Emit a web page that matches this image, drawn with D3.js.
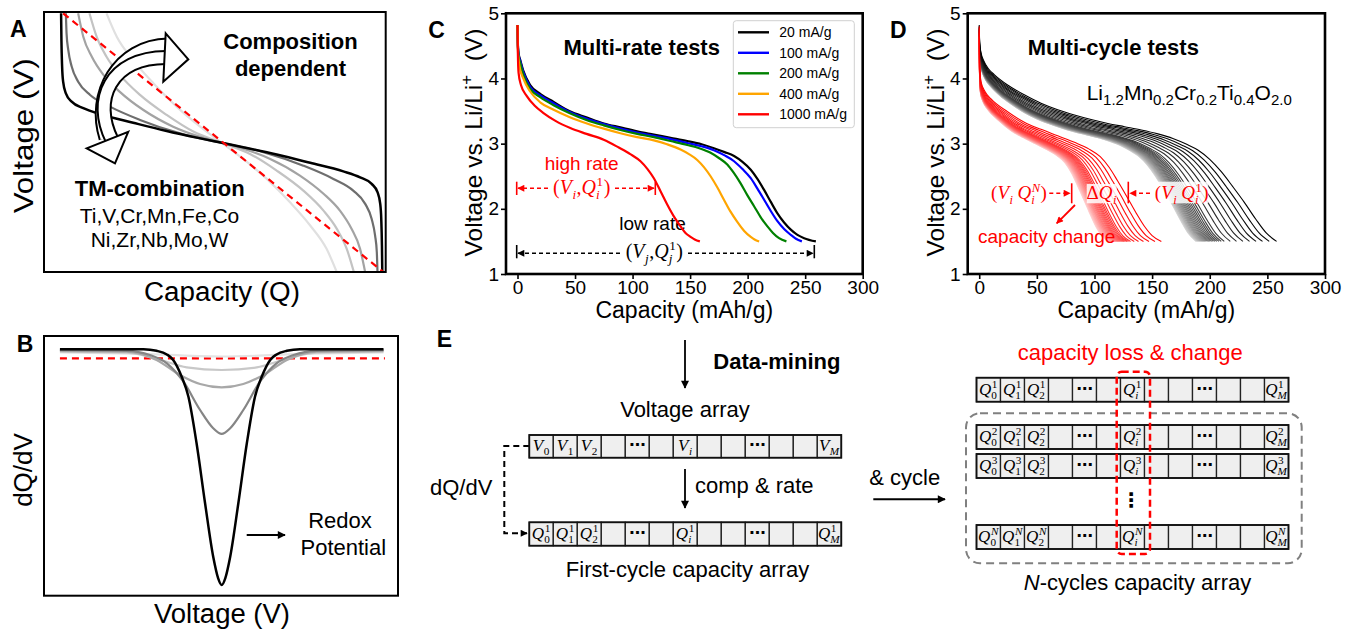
<!DOCTYPE html>
<html><head><meta charset="utf-8">
<script src="https://cdn.jsdelivr.net/npm/d3@7/dist/d3.min.js"></script>
<style>html,body{margin:0;padding:0;background:#fff;}svg{display:block;}</style>
</head><body>
<svg id="fig" width="1353" height="629" xmlns="http://www.w3.org/2000/svg"></svg>
<script>
// ================= DATA =================
// Panel A: schematic voltage profiles (capacity %, voltage %), first half; curves are point-symmetric
const aBlack = [[5.0,99.5],[5.1,89.2],[5.3,79.0],[5.6,73.2],[6.4,68.7],[8.1,65.5],[11.5,63.0],[16.4,60.7],[26.1,57.4],[35.9,54.2],[45.7,51.4],[52.0,49.7]];
const aGray1 = [[6.4,99.5],[6.6,91.8],[7.1,85.4],[8.1,79.0],[10.0,73.2],[13.5,68.1],[19.3,63.6],[28.1,58.5],[39.8,53.3],[52.0,49.7]];
const aGray2 = [[10.0,99.5],[11.5,90.5],[14.0,82.8],[17.4,75.8],[22.2,69.3],[29.1,62.3],[37.8,55.9],[45.7,52.0],[52.0,49.7]];
const aGray3 = [[13.3,99.5],[15.4,90.5],[18.3,82.8],[22.2,75.8],[28.1,68.1],[35.9,60.4],[43.7,54.0],[52.0,49.7]];
const aGray4 = [[18.3,99.5],[21.3,90.5],[26.1,81.5],[32.0,72.6],[38.8,63.6],[45.7,55.9],[52.0,49.7]];
const aRef   = [[5.6,99.5],[99.3,0]];
// Panel B: schematic dQ/dV (voltage %, dQ/dV %), left half; curves are mirror-symmetric
const bBlack = [[4.5,94.9],[28.1,94.9],[31.8,94.3],[34.7,92.9],[36.5,90.8],[38.9,84.3],[40.8,76.6],[43.1,58.7],[45.5,35.6],[47.8,15.0],[49.2,6.7],[50.2,4.1]];
const bGray1 = [[4.5,94.6],[23.4,94.3],[29.9,92.7],[34.7,89.5],[39.4,82.4],[44.1,71.5],[47.8,64.5],[50.2,62.3]];
const bGray2 = [[4.5,94.3],[23.4,94.0],[31.8,90.8],[38.4,85.0],[44.1,81.5],[50.2,80.2]];
const bGray3 = [[4.5,94.0],[23.4,93.6],[32.8,90.8],[40.3,87.9],[50.2,86.9]];
const bGray4 = [[4.5,93.7],[25.0,93.2],[50.2,92.1]];
const bRef   = [[4.5,91.4],[96.3,91.4]];
// Panel C: multi-rate discharge curves (mAh/g, V)
const rateLabels = ["20 mA/g","100 mA/g","200 mA/g","400 mA/g","1000 mA/g"];
const c20 = [[0,4.82],[0.4,4.5],[1,4.38],[2.3,4.29],[5,4.12],[11,3.9],[20,3.76],[31.4,3.64],[45,3.5],[60.4,3.4],[75,3.31],[89.4,3.25],[104,3.19],[118.5,3.14],[133,3.09],[147.5,3.04],[160,2.99],[170.7,2.93],[180,2.87],[188.2,2.81],[195.5,2.72],[202.7,2.6],[208.5,2.46],[214.3,2.29],[220,2.11],[225.9,1.93],[231.7,1.79],[237.5,1.68],[243.3,1.6],[249.1,1.55],[259.3,1.5]];
const c100 = [[0,4.82],[0.4,4.48],[1,4.36],[2.3,4.27],[5,4.1],[11,3.87],[20,3.74],[31.4,3.62],[45,3.49],[60.4,3.38],[75,3.3],[89.4,3.23],[104,3.17],[118.5,3.12],[133,3.07],[147.5,3.01],[160,2.96],[170.7,2.9],[180,2.82],[188.2,2.73],[195.5,2.61],[202.7,2.47],[208.5,2.31],[214.3,2.14],[220,1.97],[225.9,1.81],[231.7,1.69],[237.5,1.6],[242,1.54],[247.1,1.5]];
const c200 = [[0,4.82],[0.4,4.46],[1,4.33],[2.3,4.24],[5,4.06],[11,3.84],[20,3.71],[31.4,3.59],[45,3.47],[60.4,3.36],[75,3.28],[89.4,3.21],[104,3.15],[118.5,3.1],[133,3.04],[147.5,2.98],[158,2.93],[167.8,2.86],[175,2.78],[182.3,2.68],[188,2.55],[193.9,2.39],[199.7,2.21],[205.6,2.04],[211.4,1.87],[217.2,1.73],[222,1.63],[227.3,1.55],[233.7,1.5]];
const c400 = [[0,4.82],[0.4,4.42],[1,4.28],[1.7,4.19],[5,4.0],[11,3.8],[20,3.63],[31.4,3.52],[45,3.41],[60.4,3.31],[75,3.23],[89.4,3.16],[104,3.1],[118.5,3.05],[130,2.99],[141.7,2.91],[149,2.84],[156.2,2.75],[162,2.64],[167.8,2.5],[173.6,2.33],[179.4,2.14],[185,1.96],[191,1.8],[197,1.66],[202.7,1.57],[206,1.53],[210,1.5]];
const c1000 = [[0,4.82],[0.3,4.4],[0.9,4.09],[3,3.9],[8.1,3.73],[15,3.58],[22.6,3.47],[33,3.35],[45.9,3.24],[60,3.15],[74.9,3.06],[88,2.94],[98,2.84],[106.9,2.73],[113,2.61],[118.5,2.47],[124.3,2.27],[130,2.07],[136,1.88],[141.7,1.73],[146,1.63],[150.4,1.57],[154,1.53],[158.5,1.5]];
// Panel D: first-cycle curves of the two groups and end capacity of every cycle
const dBlack1 = [[0,4.82],[0.4,4.55],[1.5,4.4],[4,4.27],[8,4.15],[13,4.06],[24.6,3.9],[39.1,3.75],[53.6,3.62],[68.1,3.52],[82.6,3.44],[97.1,3.37],[111.6,3.31],[126.1,3.26],[140.6,3.21],[155,3.15],[168,3.08],[180,2.99],[190,2.9],[200,2.76],[210,2.57],[220,2.34],[230,2.1],[240,1.84],[249,1.63],[258,1.5]];
const dRed1 = [[0,4.8],[0.3,4.3],[0.8,4.08],[1.6,3.95],[5,3.8],[10,3.69],[24.6,3.49],[39.1,3.33],[53.6,3.22],[68.1,3.12],[82.6,3.02],[95,2.92],[105,2.8],[113,2.63],[120,2.43],[128,2.19],[136,1.94],[143,1.74],[150,1.59],[158,1.5]];
const dBlackEnds = [258,251.6,245.8,240.2,234.5,228.8,223.2,217.8,212.6,210.0,208.0,206.2,204.6,203.1,201.7,200.4,199.2,198.1,197.0,196.0,195.1,194.2,193.4,192.6,191.8,191.1,190.4,189.7,189.1,188.5,188.0];
const dRedEnds = [158,152.5,147.3,142.5,138.2,134.5,131.3,129.5,128.1,126.8,125.6,124.5,123.5,122.5,121.6,120.7,119.9,119.1,118.3,117.6,116.9,116.2,115.5,114.9,114.3,113.7,113.1,112.5,112.0];
// Axis ticks
const xTicks = [0,50,100,150,200,250,300];
const yTicks = [1,2,3,4,5];
// Panel E: array cells
const cellIdx = ["0","1","2","","dots","","i","","","dots","","","M"];
const cycleRows = ["1","2","3","N"];

// ================= DRAWING =================
const SANS = "'Liberation Sans', Arial, Helvetica, sans-serif";
const SERIF = "'Liberation Serif', 'Times New Roman', serif";
const svg = d3.select("#fig");
const defs = svg.append("defs");
function mk(id, color, w, h) {
  defs.append("marker").attr("id", id).attr("viewBox","0 0 10 10").attr("refX",9).attr("refY",5)
    .attr("markerWidth",w).attr("markerHeight",h).attr("markerUnits","userSpaceOnUse").attr("orient","auto-start-reverse")
    .append("path").attr("d","M0,0 L10,5 L0,10 Z").attr("fill",color);
}
mk("ak","#000",10,8); mk("ar","#f00",8,7); mk("aks","#000",8,7);

function txt(x,y,s,o={}) {
  const t = svg.append("text").attr("x",x).attr("y",y).text(s)
    .style("font-family", o.family||SANS).style("font-size",(o.size||20)+"px")
    .attr("fill", o.color||"#000").attr("text-anchor", o.anchor||"start");
  if (o.bold) t.style("font-weight","bold");
  if (o.italic) t.style("font-style","italic");
  if (o.rotate) t.attr("transform",`rotate(${o.rotate},${x},${y})`);
  if (o.len) t.attr("textLength",o.len).attr("lengthAdjust","spacingAndGlyphs");
  return t;
}
function line(x1,y1,x2,y2,o={}) {
  const l = svg.append("line").attr("x1",x1).attr("y1",y1).attr("x2",x2).attr("y2",y2)
    .attr("stroke",o.color||"#000").attr("stroke-width",o.w||1.5);
  if (o.dash) l.attr("stroke-dasharray",o.dash);
  if (o.end) l.attr("marker-end",`url(#${o.end})`);
  return l;
}
function mathText(parent, x, y, tokens, o={}) {
  const fs = o.size||18, col = o.color||"#000", ss = fs*0.66;
  const g = parent.append("g");
  let cx = 0;
  const put = (s, px, py, size, it) => g.append("text").attr("x",px).attr("y",py).text(s)
    .style("font-family",SERIF).style("font-size",size+"px").style("font-style",it?"italic":"normal").attr("fill",col);
  for (const tk of tokens) {
    if (tk.sp) { cx += tk.sp; continue; }
    const t = put(tk.t, cx, 0, fs, !!tk.it);
    cx += t.node().getComputedTextLength();
    let w = 0;
    if (tk.sup) { const s = put(tk.sup, cx+0.5, -fs*0.38, ss, /[A-Za-z]/.test(tk.sup)); w = Math.max(w, s.node().getComputedTextLength()+1); }
    if (tk.sub) { const s = put(tk.sub, cx+(tk.sup?0:0.5), fs*0.26, ss, /[A-Za-z]/.test(tk.sub)); w = Math.max(w, s.node().getComputedTextLength()+1); }
    cx += w;
  }
  const dx = o.anchor==="start" ? 0 : o.anchor==="end" ? -cx : -cx/2;
  g.attr("transform",`translate(${x+dx},${y})`);
  return {g, width: cx, left: x+dx};
}

// ---------- Panel A ----------
const xA = d3.scaleLinear().domain([0,100]).range([44,385.7]);
const yA = d3.scaleLinear().domain([0,100]).range([272,12]);
const lnA = d3.line().x(d=>xA(d[0])).y(d=>yA(d[1])).curve(d3.curveMonotoneX);
const mirA = h => h.concat(h.slice(0,-1).reverse().map(([q,v])=>[104-q,99.4-v]));
[[aGray4,"#e0e0e0"],[aGray3,"#c3c3c3"],[aGray2,"#a3a3a3"],[aGray1,"#6e6e6e"],[aBlack,"#000"]].forEach(([d,c])=>
  svg.append("path").attr("d",lnA(mirA(d))).attr("fill","none").attr("stroke",c).attr("stroke-width",c==="#000"?2.5:2.2));
svg.append("path").attr("d",lnA(aRef)).attr("fill","none").attr("stroke","#f00").attr("stroke-width",2.2).attr("stroke-dasharray","7,5");
// curved hollow arrows
function hollowArc(d){
  svg.append("path").attr("d",d).attr("fill","none").attr("stroke","#000").attr("stroke-width",15);
  svg.append("path").attr("d",d).attr("fill","none").attr("stroke","#fff").attr("stroke-width",11);
}
hollowArc("M168,45 C118,46 92,95 106,138");
hollowArc("M112,140 C92,100 110,58 166,57.5");
svg.append("path").attr("d","M165.7,33.3 L188.3,59.3 L163.3,81.7 Z").attr("fill","#fff").attr("stroke","#000").attr("stroke-width",2).attr("stroke-linejoin","miter");
svg.append("path").attr("d","M128.3,131.7 L115,163.3 L86.7,148.3 Z").attr("fill","#fff").attr("stroke","#000").attr("stroke-width",2);
txt(290.5,49,"Composition",{size:22,bold:true,anchor:"middle"});
txt(290.5,76,"dependent",{size:22,bold:true,anchor:"middle"});
txt(159.7,196,"TM-combination",{size:22,bold:true,anchor:"middle"});
txt(159.5,223,"Ti,V,Cr,Mn,Fe,Co",{size:21,anchor:"middle"});
txt(159.5,247,"Ni,Zr,Nb,Mo,W",{size:21,anchor:"middle"});
svg.append("rect").attr("x",44).attr("y",12).attr("width",341.7).attr("height",260).attr("fill","none").attr("stroke","#000").attr("stroke-width",2);
txt(33,135.8,"Voltage (V)",{size:28,anchor:"middle",rotate:-90,len:155});
txt(222,301,"Capacity (Q)",{size:27,anchor:"middle",len:156});
txt(10,37.3,"A",{size:23,bold:true});

// ---------- Panel B ----------
const xB = d3.scaleLinear().domain([0,100]).range([44,398]);
const yB = d3.scaleLinear().domain([0,100]).range([595.7,336]);
const lnB = d3.line().x(d=>xB(d[0])).y(d=>yB(d[1])).curve(d3.curveMonotoneX);
const mirB = h => h.concat(h.slice(0,-1).reverse().map(([x,v])=>[100.4-x,v]));
svg.append("path").attr("d",lnB(bRef)).attr("fill","none").attr("stroke","#f00").attr("stroke-width",2.2).attr("stroke-dasharray","7,5");
[[bGray4,"#e3e3e3"],[bGray3,"#c8c8c8"],[bGray2,"#a8a8a8"],[bGray1,"#858585"],[bBlack,"#000"]].forEach(([d,c])=>
  svg.append("path").attr("d",lnB(mirB(d))).attr("fill","none").attr("stroke",c).attr("stroke-width",c==="#000"?2.5:2.2));
svg.append("rect").attr("x",44).attr("y",336).attr("width",354).attr("height",259.7).attr("fill","none").attr("stroke","#000").attr("stroke-width",2);
line(246.7,535,285,535,{w:2,end:"ak"});
txt(340,528.3,"Redox",{size:22,anchor:"middle"});
txt(343.3,555,"Potential",{size:22,anchor:"middle"});
txt(31.7,470,"dQ/dV",{size:26,anchor:"middle",rotate:-90});
txt(222,623,"Voltage (V)",{size:27,anchor:"middle",len:136});
txt(16.7,351.7,"B",{size:23,bold:true});

// ---------- Axes helper for C & D ----------
function axesBox(x0,x1,y0,y1) {
  const xs = d3.scaleLinear().domain([-10,300]).range([x0,x1]);
  const ys = d3.scaleLinear().domain([1,5]).range([y1,y0]);
  const gx = svg.append("g").attr("transform",`translate(0,${y1})`)
    .call(d3.axisBottom(xs).tickValues(xTicks).tickFormat(d3.format("d")).tickSize(5).tickPadding(2).tickSizeOuter(0));
  const gy = svg.append("g").attr("transform",`translate(${x0},0)`)
    .call(d3.axisLeft(ys).tickValues(yTicks).tickFormat(d3.format("d")).tickSize(5).tickPadding(2).tickSizeOuter(0));
  [gx,gy].forEach(g=>{
    g.attr("font-size",19).attr("font-family",SANS);
    g.select(".domain").remove();
    g.selectAll(".tick line").attr("stroke-width",1.6);
    g.selectAll(".tick text").attr("fill","#000");
  });
  return {xs, ys};
}
function frame(x0,x1,y0,y1){
  svg.append("rect").attr("x",x0).attr("y",y0).attr("width",x1-x0).attr("height",y1-y0).attr("fill","none").attr("stroke","#000").attr("stroke-width",2.6);
}
function voltLabel(x){
  const t = svg.append("text").attr("transform",`translate(${x},142.5) rotate(-90)`).attr("text-anchor","middle")
    .style("font-family",SANS).style("font-size","24.5px").attr("fill","#000");
  t.append("tspan").text("Voltage vs. Li/Li");
  t.append("tspan").attr("dy",-10).style("font-size","17px").text("+");
  t.append("tspan").attr("dy",10).text("\u00a0\u00a0(V)");
}

// ---------- Panel C ----------
const C = axesBox(506,862.7,13.3,274);
const lnC = d3.line().x(d=>C.xs(d[0])).y(d=>C.ys(d[1])).curve(d3.curveMonotoneX);
const rateSeries = [c20,c100,c200,c400,c1000];
const rateColors = ["#000000","#0000ff","#008000","#ffa500","#ff0000"];
// annotations
txt(581.7,170,"high rate",{size:19,color:"#f00",anchor:"middle"});
line(516.7,181.7,516.7,195,{color:"#f00",w:1.6});
line(655.3,181.7,655.3,195,{color:"#f00",w:1.6});
line(548,188.3,518,188.3,{color:"#f00",w:1.5,dash:"4,3",end:"ar"});
line(615,188.3,654,188.3,{color:"#f00",w:1.5,dash:"4,3",end:"ar"});
mathText(svg,581.7,194,[{t:"("},{t:"V",it:1,sub:"i"},{t:", "},{t:"Q",it:1,sub:"i",sup:"1"},{t:")"}],{size:20,color:"#f00"});
txt(652.5,230,"low rate",{size:19,anchor:"middle"});
line(516.7,245,516.7,258.3,{w:1.6});
line(814.3,245,814.3,258.3,{w:1.6});
line(620,253.3,518,253.3,{w:1.5,dash:"4,3",end:"aks"});
line(688,253.3,813,253.3,{w:1.5,dash:"4,3",end:"aks"});
mathText(svg,654.3,258,[{t:"("},{t:"V",it:1,sub:"j"},{t:", "},{t:"Q",it:1,sub:"j",sup:"1"},{t:")"}],{size:20});
rateSeries.forEach((d,i)=>svg.append("path").attr("d",lnC(d)).attr("fill","none").attr("stroke",rateColors[i]).attr("stroke-width",2.2));
frame(506,862.7,13.3,274);
// legend
svg.append("rect").attr("x",733.3).attr("y",20.7).attr("width",121).attr("height",107).attr("rx",3)
  .attr("fill","#fff").attr("fill-opacity",0.85).attr("stroke","#d0d0d0").attr("stroke-width",1);
const legY = d3.scalePoint().domain(rateLabels).range([32.3,114.3]);
rateLabels.forEach((lab,i)=>{
  line(738,legY(lab),769,legY(lab),{color:rateColors[i],w:2.4});
  txt(779.3,legY(lab)+5,lab,{size:14});
});
txt(641.7,54.5,"Multi-rate tests",{size:22,bold:true,anchor:"middle"});
voltLabel(482);
txt(684.3,318,"Capacity (mAh/g)",{size:23,anchor:"middle"});
txt(428.3,38.3,"C",{size:23,bold:true});

// ---------- Panel D ----------
const D = axesBox(967.7,1325,13.3,274);
const lnD = d3.line().x(d=>D.xs(d[0])).y(d=>D.ys(d[1])).curve(d3.curveMonotoneX);
function cycleGroup(base, ends, c0, c1) {
  const e0 = ends[0], n = ends.length;
  const col = d3.interpolateRgb(c0,c1);
  for (let i=n-1;i>=0;i--) {
    const r = ends[i]/e0, f = 1-0.25*(1-r);
    const pts = base.map(([q,v])=>[q*r, 1.5+(v-1.5)*f]);
    svg.append("path").attr("d",lnD(pts)).attr("fill","none").attr("stroke",col(i/(n-1))).attr("stroke-width",1.1);
  }
}
cycleGroup(dBlack1, dBlackEnds, "#000000", "#d6d6d6");
cycleGroup(dRed1, dRedEnds, "#ff0000", "#ffd2d2");
frame(967.7,1325,13.3,274);
// annotations
line(1071.7,183.3,1071.7,203.3,{color:"#f00",w:1.6});
line(1128.3,181.7,1128.3,203.3,{color:"#f00",w:1.6});
line(1049.3,193.3,1070,193.3,{color:"#f00",w:1.5,dash:"4,3",end:"ar"});
line(1150,193.3,1130,193.3,{color:"#f00",w:1.5,dash:"4,3",end:"ar"});
svg.append("rect").attr("x",1086.7).attr("y",184).attr("width",30).attr("height",19.3).attr("fill","#fff").attr("fill-opacity",0.85);
svg.append("rect").attr("x",1155).attr("y",181.7).attr("width",53.3).attr("height",21.6).attr("fill","#fff").attr("fill-opacity",0.85);
mathText(svg,1019,199,[{t:"("},{t:"V",it:1,sub:"i"},{sp:4},{t:"Q",it:1,sub:"i",sup:"N"},{t:")"}],{size:19,color:"#f00"});
mathText(svg,1101.7,199,[{t:"\u0394"},{t:"Q",it:1,sub:"i"}],{size:19,color:"#f00"});
mathText(svg,1181.7,199,[{t:"("},{t:"V",it:1,sub:"i"},{sp:4},{t:"Q",it:1,sub:"i",sup:"1"},{t:")"}],{size:19,color:"#f00"});
line(1075,205,1056.7,223.3,{color:"#f00",w:1.8,end:"ar"});
txt(1046.7,243.3,"capacity change",{size:19,color:"#f00",anchor:"middle"});
txt(1113.3,55,"Multi-cycle tests",{size:22,bold:true,anchor:"middle"});
const formula = [["Li","1.2"],["Mn","0.2"],["Cr","0.2"],["Ti","0.4"],["O","2.0"]];
const ft = svg.append("text").attr("x",1086.7).attr("y",100).style("font-family",SANS).style("font-size","21px").attr("fill","#000");
formula.forEach(([el,sb],i)=>{
  ft.append("tspan").attr("dy",i?-5:0).text(el);
  ft.append("tspan").attr("dy",5).style("font-size","15px").text(sb);
});
voltLabel(944);
txt(1146.3,318,"Capacity (mAh/g)",{size:23,anchor:"middle"});
txt(890,38.3,"D",{size:23,bold:true});

// ---------- Panel E ----------
txt(436.7,346.7,"E",{size:23,bold:true});
line(685,340,685,388,{w:1.8,end:"ak"});
txt(713.3,369.3,"Data-mining",{size:22,bold:true});
txt(685,416.7,"Voltage array",{size:22,anchor:"middle"});
line(685,469,685,508,{w:1.8,end:"ak"});
txt(695,493.3,"comp & rate",{size:22});
txt(430,495,"dQ/dV",{size:22});
svg.append("path").attr("d","M529.3,446 H504.3 V533.3 H527").attr("fill","none").attr("stroke","#000").attr("stroke-width",2).attr("stroke-dasharray","6,4").attr("marker-end","url(#aks)");
txt(687.5,577,"First-cycle capacity array",{size:22,anchor:"middle"});

function cellRow(x0, y0, h, base, sup) {
  const bx = d3.scaleBand().domain(d3.range(cellIdx.length)).range([x0, x0+312]);
  const g = svg.append("g");
  g.selectAll("rect").data(cellIdx).join("rect")
    .attr("x",(d,i)=>bx(i)).attr("y",y0).attr("width",bx.bandwidth()).attr("height",h)
    .attr("fill","#efefef").attr("stroke","#222").attr("stroke-width",1.3);
  g.append("rect").attr("x",x0).attr("y",y0).attr("width",312).attr("height",h).attr("fill","none").attr("stroke","#111").attr("stroke-width",1.8);
  cellIdx.forEach((d,i)=>{
    const cx = bx(i)+bx.bandwidth()/2;
    if (d==="dots") {
      txt(cx,y0+h/2+4,"\u22ef",{size:16,anchor:"middle",family:"'DejaVu Sans', sans-serif"}).style("font-weight","bold");
    } else if (d!=="") {
      const tk = {t:base,it:1,sub:d}; if (sup) tk.sup = sup;
      mathText(g,cx,y0+h*0.7,[tk],{size:17});
    }
  });
}
cellRow(529.3,435,22.7,"V",null);
cellRow(529.3,522.3,23.4,"Q","1");
// right side
txt(1130.3,360,"capacity loss & change",{size:22,color:"#f00",anchor:"middle"});
const rowTops = [377.7,425,454,525];
cycleRows.forEach((c,i)=>cellRow(976.5,rowTops[i],24,"Q",c));
svg.append("rect").attr("x",966).attr("y",413.3).attr("width",335.7).attr("height",150).attr("rx",14)
  .attr("fill","none").attr("stroke","#808080").attr("stroke-width",2).attr("stroke-dasharray","8,5");
txt(1131,507,"\u22ee",{size:20,anchor:"middle",family:"'DejaVu Sans', sans-serif"}).style("font-weight","bold");
svg.append("rect").attr("x",1116.7).attr("y",371.7).attr("width",33.3).attr("height",182.3).attr("rx",5)
  .attr("fill","none").attr("stroke","#f00").attr("stroke-width",2.5).attr("stroke-dasharray","7,4");
txt(869.3,485,"& cycle",{size:22});
line(873.3,499.3,945,499.3,{w:2,end:"ak"});
const nt = svg.append("text").attr("x",1137.5).attr("y",590).attr("text-anchor","middle").style("font-family",SANS).style("font-size","22px").attr("fill","#000");
nt.append("tspan").style("font-style","italic").text("N");
nt.append("tspan").text("-cycles capacity array");
</script>
</body></html>
